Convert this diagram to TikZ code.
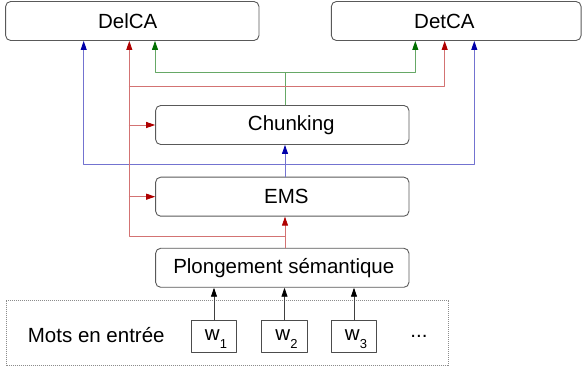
\documentclass[tikz,border=0pt]{standalone}
\usepackage{fontspec}
\setmainfont{Liberation Sans}
\usetikzlibrary{arrows.meta}
\definecolor{darkblue}{RGB}{0,0,170}
\definecolor{darkred}{RGB}{175,0,0}
\definecolor{darkgreen}{RGB}{0,110,0}
\tikzset{
	box/.style={draw=black!65, line width=0.9pt, rounded corners=5pt, minimum width=253.3pt, minimum height=39pt, inner sep=0pt},
	wbox/.style={draw=black!70, line width=0.9pt, minimum width=45.7pt, minimum height=32pt, inner sep=0pt, text height=14pt, text depth=5pt},
	barrow/.style={line width=0.8pt, draw=darkblue!55, -{Triangle[length=9pt,width=6pt,color=darkblue]}},
	rarrow/.style={line width=0.8pt, draw=darkred!55, -{Triangle[length=9pt,width=6pt,color=darkred]}},
	garrow/.style={line width=0.8pt, draw=darkgreen!60, -{Triangle[length=9pt,width=6pt,color=darkgreen]}},
	karrow/.style={line width=0.8pt, draw=black!75, -{Triangle[length=9pt,width=6pt,color=black]}},
}
\begin{document}
\begin{tikzpicture}[x=1pt, y=-1pt, line join=round, line cap=round, font=\fontsize{20.5}{24}\selectfont]
\useasboundingbox (0,0) rectangle (582,371);

\node[box, label={[xshift=-4.6pt]center:DelCA}] (delca) at (132.3,21) {};
\node[box, minimum width=249.7pt, label={[xshift=-11.8pt]center:DetCA}] (detca) at (456.2,21) {};
\node[box, label={[xshift=9pt]center:Chunking}] (chunk) at (282.3,125) {};
\node[box, label={[xshift=4pt]center:EMS}] (ems) at (282.3,196.7) {};
\node[box, label={[xshift=1.5pt]center:Plongement sémantique}] (plong) at (282.3,267.8) {};

\draw[black!45, line width=1pt, line cap=butt, dash pattern=on 1pt off 1pt] (6,300.7) rectangle (448.3,366);
\node[anchor=base west, inner sep=0pt] (mots) at (27.7,342.3) {Mots en entrée};
\foreach \i/\x in {1/214,2/284.5,3/354}
	\node[wbox] (w\i) at (\x,336.3) {\hspace*{4pt}w\raisebox{-7.5pt}{\fontsize{13}{13}\selectfont \i}};
\node[inner sep=0pt] (etc) at (419,336) {...};

\path (285,0) coordinate (m)
	(83.7,164) coordinate (bl) (474.3,164) coordinate (br)
	(155,72.7) coordinate (gl) (415.3,72.7) coordinate (gr)
	(129.3,236) coordinate (rl) (444.7,86) coordinate (rr);

% entrees
\foreach \i in {1,2,3}
	\draw[karrow] (w\i.north) -- (w\i.north |- plong.south);

% bleu
\draw[barrow] (ems.north -| m) -- (chunk.south -| m);
\draw[barrow] (bl -| m) -| (bl |- delca.south);
\draw[barrow] (bl -| m) -| (br |- detca.south);

% vert
\draw[garrow] (chunk.north -| m) |- (gl) -- (gl |- delca.south);
\draw[garrow] (gl -| m) -| (gr |- detca.south);

% rouge
\draw[rarrow] (plong.north -| m) -- (ems.south -| m);
\draw[rarrow] (rl -| m) -- (rl) -- (rl |- delca.south);
\draw[rarrow] (rl |- ems.west) -- (ems.west);
\draw[rarrow] (rl |- chunk.west) -- (chunk.west);
\draw[rarrow] (rl |- rr) -| (rr |- detca.south);
\end{tikzpicture}
\end{document}
